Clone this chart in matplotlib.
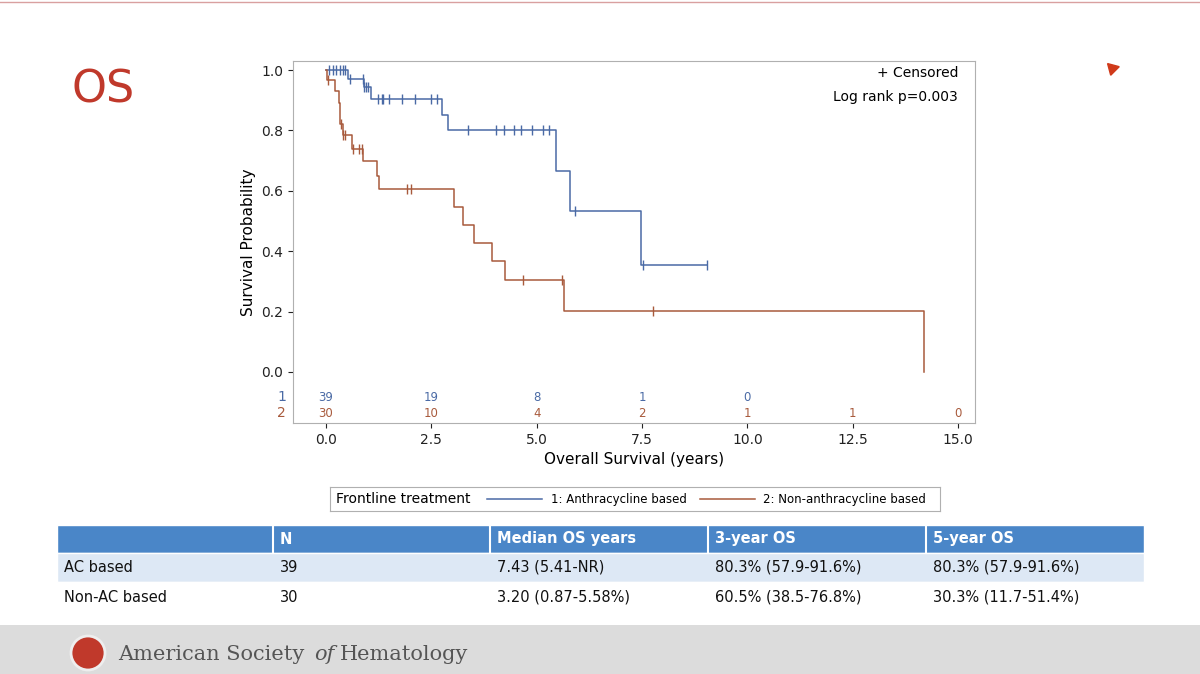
import numpy as np
import matplotlib.pyplot as plt
from matplotlib.patches import Rectangle

# Kaplan-Meier steps (time in years, survival)
ac_t = [0, 0.52, 0.90, 1.08, 2.75, 2.89, 5.45, 5.78, 7.48, 9.05]
ac_s = [1.0, 0.970, 0.943, 0.903, 0.85, 0.80, 0.666, 0.534, 0.355, 0.355]
ac_cens_t = [0.08, 0.16, 0.25, 0.33, 0.40, 0.46, 0.58, 0.87, 0.90, 0.95, 1.00,
             1.24, 1.32, 1.36, 1.50, 1.80, 2.11, 2.49, 2.63,
             3.36, 4.03, 4.23, 4.47, 4.63, 4.88, 5.14, 5.29, 5.91, 7.53, 9.05]

nac_t = [0, 0.02, 0.22, 0.32, 0.34, 0.40, 0.61, 0.87, 1.22, 1.26, 3.05, 3.25,
         3.51, 3.93, 4.26, 5.64, 14.2, 14.2]
nac_s = [1.0, 0.967, 0.93, 0.89, 0.82, 0.785, 0.74, 0.70, 0.65, 0.605, 0.546,
         0.487, 0.427, 0.368, 0.304, 0.203, 0.203, 0.0]
nac_cens_t = [0.05, 0.35, 0.41, 0.45, 0.65, 0.79, 0.85, 1.93, 2.03, 4.67, 5.59, 7.77]

risk_times = [0, 2.5, 5, 7.5, 10, 12.5, 15]
risk_ac = ["39", "19", "8", "1", "0"]
risk_nac = ["30", "10", "4", "2", "1", "1", "0"]

table_cols = ["", "N", "Median OS years", "3-year OS", "5-year OS"]
table_rows = [
    ["AC based", "39", "7.43 (5.41-NR)", "80.3% (57.9-91.6%)", "80.3% (57.9-91.6%)"],
    ["Non-AC based", "30", "3.20 (0.87-5.58%)", "60.5% (38.5-76.8%)", "30.3% (11.7-51.4%)"],
]

blue = "#4a6aa5"
red = "#a85a3c"
W, H = 1200, 674


def surv_at(ts, ss, t):
    i = np.searchsorted(ts, t, side="right") - 1
    return ss[max(i, 0)]


fig = plt.figure(figsize=(12, 6.74), dpi=100)
fig.patch.set_facecolor("white")

ax = fig.add_axes([293 / W, 1 - 423 / H, (975 - 293) / W, (423 - 61) / H])
ax.step(ac_t, ac_s, where="post", color=blue, lw=1.1)
ax.step(nac_t, nac_s, where="post", color=red, lw=1.1)
ax.plot(ac_cens_t, [surv_at(ac_t, ac_s, t) for t in ac_cens_t], "|", color=blue, ms=7, mew=1)
ax.plot(nac_cens_t, [surv_at(nac_t, nac_s, t) for t in nac_cens_t], "|", color=red, ms=7, mew=1)
ax.set_xlim(-0.78, 15.4)
ax.set_ylim(-0.169, 1.03)
ax.set_yticks([0, 0.2, 0.4, 0.6, 0.8, 1.0])
ax.set_yticklabels(["0.0", "0.2", "0.4", "0.6", "0.8", "1.0"])
ax.set_xticks(risk_times)
ax.set_xticklabels(["0.0", "2.5", "5.0", "7.5", "10.0", "12.5", "15.0"])
ax.tick_params(labelsize=10, colors="#222222")
for s in ax.spines.values():
    s.set_color("#b0b0b0")
ax.set_ylabel("Survival Probability", fontsize=11)
ax.set_xlabel("Overall Survival (years)", fontsize=11)
for t, n in zip(risk_times, risk_ac):
    ax.text(t, -0.083, n, color=blue, ha="center", va="center", fontsize=8.5)
for t, n in zip(risk_times, risk_nac):
    ax.text(t, -0.136, n, color=red, ha="center", va="center", fontsize=8.5)
ax.text(-1.05, -0.083, "1", color=blue, ha="center", va="center", fontsize=10)
ax.text(-1.05, -0.136, "2", color=red, ha="center", va="center", fontsize=10)
ax.text(15.0, 0.99, "+ Censored", ha="right", va="center", fontsize=10)
ax.text(15.0, 0.91, "Log rank p=0.003", ha="right", va="center", fontsize=10)

# legend box
lg = fig.add_axes([330 / W, 1 - 511 / H, 610 / W, 24 / H])
lg.set_xlim(330, 940)
lg.set_ylim(0, 1)
lg.set_xticks([])
lg.set_yticks([])
for s in lg.spines.values():
    s.set_color("#b0b0b0")
lg.text(336, 0.5, "Frontline treatment", va="center", fontsize=10)
lg.plot([487, 542], [0.5, 0.5], color=blue, lw=1.1)
lg.text(551, 0.5, "1: Anthracycline based", va="center", fontsize=8.5)
lg.plot([700, 755], [0.5, 0.5], color=red, lw=1.1)
lg.text(763, 0.5, "2: Non-anthracycline based", va="center", fontsize=8.5)

# slide decorations and table
sl = fig.add_axes([0, 0, 1, 1], zorder=-1)
sl.set_xlim(0, W)
sl.set_ylim(H, 0)
sl.axis("off")
sl.plot([0, W], [2, 2], color="#d9a0a0", lw=1)
sl.text(72, 90, "OS", color="#c0392b", fontsize=32, va="center")
col_x = [57, 273, 490, 708, 926, 1144]
row_y = [525, 553, 582, 612]
fills = ["#4a86c8", "#dde8f5", "#ffffff"]
for r in range(3):
    sl.add_patch(Rectangle((col_x[0], row_y[r]), col_x[-1] - col_x[0],
                           row_y[r + 1] - row_y[r], facecolor=fills[r],
                           edgecolor="white", lw=1))
    cells = table_cols if r == 0 else table_rows[r - 1]
    for c in range(5):
        if r == 0 and c > 0:
            sl.plot([col_x[c], col_x[c]], [row_y[0], row_y[1]], color="white", lw=1.5)
        sl.text(col_x[c] + 7, (row_y[r] + row_y[r + 1]) / 2, cells[c],
                va="center", fontsize=10.5,
                color="white" if r == 0 else "#111111",
                fontweight="bold" if r == 0 else "normal")
sl.add_patch(Rectangle((0, 625), W, 49, facecolor="#dcdcdc", edgecolor="none"))
sl.add_patch(plt.Circle((88, 653), 17, facecolor="#c0392b", edgecolor="#eeeeee", lw=2))
sl.text(118, 654, "American Society", fontsize=15, color="#555555", va="center",
        family="DejaVu Serif")
sl.text(314, 654, "of", fontsize=15, color="#555555", va="center",
        family="DejaVu Serif", style="italic")
sl.text(340, 654, "Hematology", fontsize=15, color="#555555", va="center",
        family="DejaVu Serif")
sl.plot([1112], [68], marker=(3, 0, 45), color="#d03a1a", ms=10)

fig.savefig("out.png", dpi=100)
